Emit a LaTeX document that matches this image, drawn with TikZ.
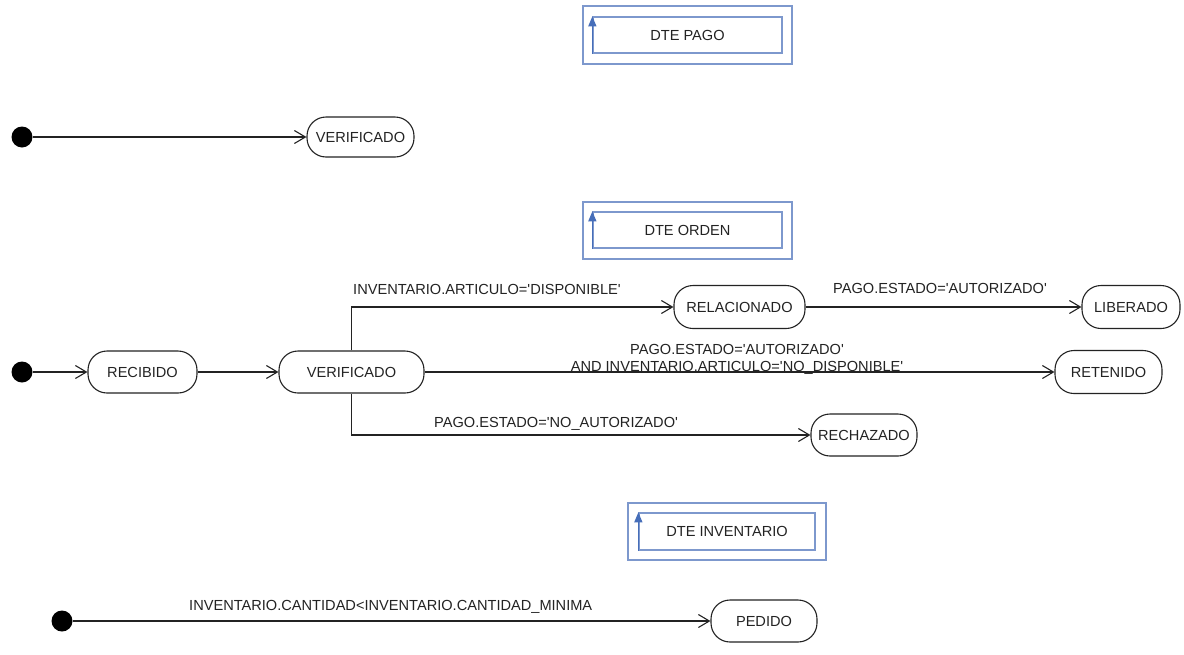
\documentclass[tikz,border=0pt]{standalone}
\usepackage{fontspec}
\newfontfamily\arialf{Liberation Sans}
\usetikzlibrary{arrows.meta}
\definecolor{boxblue}{RGB}{125,152,205}
\definecolor{arrblue}{RGB}{70,110,185}
\definecolor{ink}{RGB}{35,35,35}
\begin{document}
\begin{tikzpicture}[x=1pt,y=-1pt,
  font=\arialf\fontsize{14.6}{17}\selectfont,
  state/.style={draw=ink, line width=1.1pt, rounded corners=19pt, minimum height=42pt, inner sep=0pt, text=ink},
  init/.style={circle, fill=black, minimum size=21pt, inner sep=0pt},
  trans/.style={draw=ink, line width=1.1pt, -{Straight Barb[length=11pt,width=13pt,line width=1.1pt]}},
  lbl/.style={inner sep=0pt, text=ink},
  dtebox/.style={draw=boxblue, line width=1.3pt, inner sep=0pt, text=ink},
  dtearrow/.style={draw=arrblue, line width=1.3pt, -{Triangle[length=10pt,width=8pt]}}
]
\useasboundingbox (0,0) rectangle (1184,654);
\fill[white] (0,0) rectangle (1184,654);

% DTE PAGO
\node[dtebox, minimum width=209pt, minimum height=58pt] (pagoO) at (687.5,35) {};
\node[dtebox, minimum width=189pt, minimum height=36pt] (pagoI) at (687.5,35) {DTE PAGO};
\draw[dtearrow] (pagoI.south west) -- (pagoI.north west);

\node[init] (i1) at (22,137) {};
\node[state, minimum width=107pt, minimum height=40pt] (v1) at (360.5,137) {VERIFICADO};
\draw[trans] (i1) -- (v1);

% DTE ORDEN
\node[dtebox, minimum width=209pt, minimum height=57pt] (ordO) at (687.5,230.5) {};
\node[dtebox, minimum width=189pt, minimum height=36pt] (ordI) at (687.5,230) {DTE ORDEN};
\draw[dtearrow] (ordI.south west) -- (ordI.north west);

\node[init] (i2) at (22,372) {};
\node[state, minimum width=109pt] (rec) at (142.5,372) {RECIBIDO};
\node[state, minimum width=145pt] (ver) at (351.5,372) {VERIFICADO};
\node[state, minimum width=131pt, minimum height=43pt] (rel) at (739.5,307) {RELACIONADO};
\node[state, minimum width=98pt, minimum height=43pt] (lib) at (1131,307) {LIBERADO};
\node[state, minimum width=107pt, minimum height=43pt] (ret) at (1108.5,372) {RETENIDO};
\node[state, minimum width=106pt] (rech) at (864,435) {RECHAZADO};

\draw[trans] (i2) -- (rec);
\draw[trans] (rec) -- (ver);
\draw[trans] (ver) -- (ret);
\draw[trans] (ver.north) |- (rel);
\draw[trans] (ver.south) |- (rech);
\draw[trans] (rel) -- (lib);

\node[lbl, anchor=base west] (la) at (353,294) {INVENTARIO.ARTICULO='DISPONIBLE'};
\node[lbl, anchor=base west] (lb) at (833,293) {PAGO.ESTADO='AUTORIZADO'};
\node[lbl, anchor=base] (lc) at (737,354) {PAGO.ESTADO='AUTORIZADO'};
\node[lbl, anchor=base] (ld) at (737,371) {AND INVENTARIO.ARTICULO='NO\_DISPONIBLE'};
\node[lbl, anchor=base west] (le) at (434,427) {PAGO.ESTADO='NO\_AUTORIZADO'};

% DTE INVENTARIO
\node[dtebox, minimum width=198pt, minimum height=57pt] (invO) at (727,531.5) {};
\node[dtebox, minimum width=176pt, minimum height=37pt] (invI) at (727,531.5) {DTE INVENTARIO};
\draw[dtearrow] (invI.south west) -- (invI.north west);

\node[init] (i3) at (62,621) {};
\node[state, minimum width=106pt] (ped) at (764,621) {PEDIDO};
\draw[trans] (i3) -- (ped);
\node[lbl, anchor=base west] (lf) at (189,610) {INVENTARIO.CANTIDAD<INVENTARIO.CANTIDAD\_MINIMA};
\end{tikzpicture}
\end{document}
